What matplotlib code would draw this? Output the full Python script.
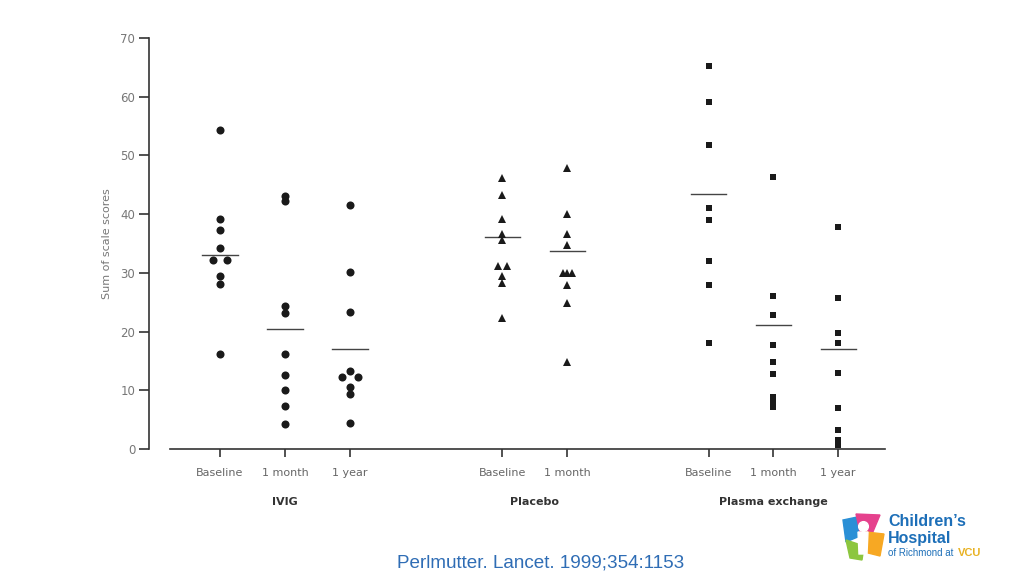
import matplotlib
matplotlib.use("Agg")
import matplotlib.pyplot as plt
from matplotlib.patches import Polygon
from matplotlib.transforms import blended_transform_factory

# ---- data ----
tick_labels = ["Baseline", "1 month", "1 year", "Baseline", "1 month", "Baseline", "1 month", "1 year"]
groups = ["IVIG", "Placebo", "Plasma exchange"]

ivig_baseline = [54.3, 39.2, 37.3, 34.3, 32.2, 32.2, 29.4, 28.1, 16.2]
ivig_1month = [43.1, 42.2, 24.4, 23.2, 16.2, 12.6, 10.1, 7.3, 4.3]
ivig_1year = [41.5, 30.2, 23.4, 13.3, 12.3, 12.3, 10.5, 9.4, 4.4]
placebo_baseline = [46.1, 43.3, 39.2, 36.7, 35.6, 31.2, 31.2, 29.5, 28.2, 22.3]
placebo_1month = [47.8, 40.0, 36.7, 34.7, 30.0, 30.0, 30.0, 27.9, 24.8, 14.9]
pe_baseline = [65.2, 59.1, 51.8, 41.0, 39.0, 32.1, 27.9, 18.1]
pe_1month = [46.3, 26.1, 22.8, 17.7, 14.8, 12.8, 8.9, 8.1, 7.2]
pe_1year = [37.8, 25.7, 19.7, 18.0, 12.9, 7.0, 3.3, 1.5, 0.7]

means = [33.1, 20.4, 17.1, 36.1, 33.7, 43.4, 21.1, 17.0]

# horizontal offsets for side-by-side (tied) points, in category units
ivig_baseline_dx = [0, 0, 0, 0, -0.11, 0.11, 0, 0, 0]
ivig_1year_dx = [0, 0, 0, 0, -0.12, 0.12, 0, 0, 0]
placebo_baseline_dx = [0, 0, 0, 0, 0, -0.07, 0.07, 0, 0, 0]
placebo_1month_dx = [0, 0, 0, 0, -0.07, 0.0, 0.07, 0, 0, 0]

series = [
    (ivig_baseline, ivig_baseline_dx, "o"),
    (ivig_1month, None, "o"),
    (ivig_1year, ivig_1year_dx, "o"),
    (placebo_baseline, placebo_baseline_dx, "^"),
    (placebo_1month, placebo_1month_dx, "^"),
    (pe_baseline, None, "s"),
    (pe_1month, None, "s"),
    (pe_1year, None, "s"),
]

positions = [0, 1, 2, 4.34, 5.34, 7.52, 8.51, 9.51]
group_centers = [1, 4.84, 8.51]

W, H = 1024, 576
fig = plt.figure(figsize=(W / 100, H / 100), dpi=100)
fig.patch.set_facecolor("white")

ax = fig.add_axes([170 / W, 1 - 449 / H, (885 - 170) / W, (449 - 38) / H])
ax.set_xlim((170 - 220) / 65, (885 - 220) / 65)
ax.set_ylim(0, 70)

mark_color = "#1a1a1a"
msize = {"o": 5.8, "^": 6.2, "s": 4.8}
for pos, (vals, dx, m) in zip(positions, series):
    if dx is None:
        dx = [0] * len(vals)
    xs = [pos + d for d in dx]
    ax.plot(xs, vals, linestyle="none", marker=m, markersize=msize[m],
            color=mark_color, markeredgewidth=0, clip_on=False, zorder=3)

for pos, mval in zip(positions, means):
    ax.plot([pos - 0.27, pos + 0.27], [mval, mval], color="#444444", lw=1.0, zorder=2)

# spines
for s in ["top", "right"]:
    ax.spines[s].set_visible(False)
ax.spines["left"].set_position(("outward", 15))
ax.spines["left"].set_color("#333333")
ax.spines["bottom"].set_color("#333333")
ax.spines["left"].set_linewidth(1.2)
ax.spines["bottom"].set_linewidth(1.2)

ax.set_yticks(range(0, 71, 10))
ax.set_yticklabels([str(v) for v in range(0, 71, 10)])
ax.tick_params(axis="y", length=7, width=1.2, color="#333333", labelcolor="#777777",
               labelsize=8.5, pad=3)
ax.set_xticks(positions)
ax.set_xticklabels(tick_labels)
ax.tick_params(axis="x", length=6, width=1.2, color="#333333", labelcolor="#666666",
               labelsize=8, pad=8)

ax.set_ylabel("Sum of scale scores", color="#777777", fontsize=8, labelpad=6)

trans = blended_transform_factory(ax.transData, ax.transAxes)
for gx, g in zip(group_centers, groups):
    ax.text(gx, (449 - 502) / 411, g, transform=trans, ha="center", va="center",
            fontsize=8, fontweight="bold", color="#333333")

# footer citation
fig.text(541 / W, 1 - 563 / H, "Perlmutter. Lancet. 1999;354:1153", ha="center", va="center",
         fontsize=13.6, color="#2f6db5", family="Liberation Sans")

# logo approximation
lx = fig.add_axes([840 / W, 1 - 562 / H, 50 / W, 50 / H])
lx.set_xlim(0, 50)
lx.set_ylim(0, 50)
lx.axis("off")
lx.add_patch(Polygon([[3, 42], [22, 46], [20, 26], [6, 20]], closed=True, color="#2a8fd6"))
lx.add_patch(Polygon([[16, 48], [40, 47], [32, 28], [20, 30]], closed=True, color="#e5418d"))
lx.add_patch(Polygon([[26, 30], [44, 28], [40, 6], [24, 10]], closed=True, color="#f7a823"))
lx.add_patch(Polygon([[6, 22], [24, 16], [22, 2], [10, 4]], closed=True, color="#8cc63f"))
lx.add_patch(Polygon([[18, 30], [28, 30], [27, 8], [19, 8]], closed=True, color="white"))
lx.plot([23], [36], marker="o", markersize=7, color="white")

fig.text(888 / W, 1 - 521 / H, "Children\u2019s", fontsize=11.5, fontweight="bold",
         color="#1d6fb8", family="Liberation Sans", va="center")
fig.text(888 / W, 1 - 538 / H, "Hospital", fontsize=11.5, fontweight="bold",
         color="#1d6fb8", family="Liberation Sans", va="center")
fig.text(888 / W, 1 - 553 / H, "of Richmond at", fontsize=7, color="#1d6fb8",
         family="Liberation Sans", va="center")
fig.text(958 / W, 1 - 553 / H, "VCU", fontsize=8, fontweight="bold", color="#e8b223",
         family="Liberation Sans", va="center")

fig.savefig("out.png", dpi=100, facecolor="white")
